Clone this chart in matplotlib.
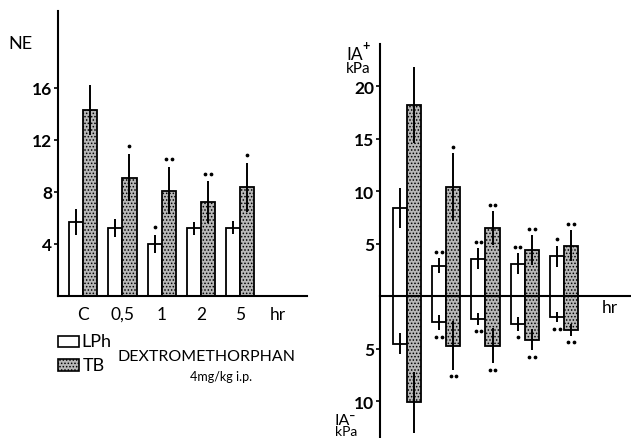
import matplotlib
matplotlib.use('Agg')
import matplotlib.pyplot as plt
from matplotlib.patches import Rectangle
import numpy as np

plt.rcParams['font.family'] = ['Lato', 'DejaVu Sans']
plt.rcParams['hatch.linewidth'] = 0.7
plt.rcParams['hatch.color'] = '#303030'

# data
groups = ['C', '0,5', '1', '2', '5']

ne_lph = [5.7, 5.2, 4.0, 5.2, 5.25]
ne_lph_err = [1.0, 0.7, 0.7, 0.5, 0.5]
ne_tb = [14.3, 9.1, 8.1, 7.2, 8.35]
ne_tb_err = [1.9, 1.8, 1.8, 1.6, 1.9]
ne_lph_sig = [0, 0, 1, 0, 0]
ne_tb_sig = [0, 1, 2, 2, 1]

ia_pos_lph = [8.4, 2.9, 3.55, 3.1, 3.8]
ia_pos_lph_err = [1.9, 0.7, 1.0, 1.0, 1.0]
ia_pos_tb = [18.2, 10.4, 6.5, 4.4, 4.8]
ia_pos_tb_err = [3.6, 3.2, 1.6, 1.4, 1.5]
ia_pos_lph_sig = [0, 2, 2, 2, 1]
ia_pos_tb_sig = [0, 1, 2, 2, 2]

ia_neg_lph = [4.55, 2.5, 2.2, 2.65, 2.0]
ia_neg_lph_err = [1.0, 0.75, 0.55, 0.65, 0.5]
ia_neg_tb = [10.1, 4.7, 4.7, 4.15, 3.2]
ia_neg_tb_err = [2.9, 2.3, 1.7, 1.0, 0.55]
ia_neg_lph_sig = [0, 2, 2, 1, 2]
ia_neg_tb_sig = [0, 2, 2, 2, 2]

W, H = 631, 439
x = np.arange(len(groups))
bw = 0.36
TB_FACE = '#b8b8b8'
TB_HATCH = '.....'


def draw_bars(ax, vals, errs, off, face, hatch, sign=1):
    v = sign * np.array(vals)
    ax.bar(x + off, v, bw, color=face, edgecolor='black', hatch=hatch,
           linewidth=1.3, zorder=2)
    ax.errorbar(x + off, v, yerr=errs, fmt='none', ecolor='black',
                elinewidth=1.4, capsize=0, zorder=3)


def draw_sig(ax, vals, errs, counts, off, gap, sign=1):
    for i, n in enumerate(counts):
        if n == 0:
            continue
        y = sign * (vals[i] + errs[i] + gap)
        dx = [0.0] if n == 1 else [-0.07, 0.07]
        ax.plot(x[i] + off + np.array(dx), [y] * n, 'o', ms=1.7,
                color='black', zorder=4)


fig = plt.figure(figsize=(W / 100, H / 100), dpi=100)

# ---- left panel: NE
ax1 = fig.add_axes([58 / W, 1 - 297 / H, 249 / W, 285 / H])
draw_bars(ax1, ne_lph, ne_lph_err, -bw / 2, 'white', None)
draw_bars(ax1, ne_tb, ne_tb_err, bw / 2, TB_FACE, TB_HATCH)
draw_sig(ax1, ne_lph, ne_lph_err, ne_lph_sig, -bw / 2, 0.6)
draw_sig(ax1, ne_tb, ne_tb_err, ne_tb_sig, bw / 2, 0.6)
ax1.set_xlim(-0.64, 5.7)
ax1.set_ylim(0, 21.9)
ax1.set_yticks([4, 8, 12, 16])
ax1.set_xticks(list(x) + [4.95])
ax1.set_xticklabels(groups + ['hr'])
for s in ['top', 'right']:
    ax1.spines[s].set_visible(False)
for s in ['left', 'bottom']:
    ax1.spines[s].set_linewidth(1.5)
ax1.tick_params(axis='x', length=0, pad=7, labelsize=12.5)
ax1.tick_params(axis='y', length=3, width=1.2, direction='out', pad=1,
                labelsize=12.5)
for t in ax1.get_yticklabels():
    t.set_fontweight('bold')
fig.text(8 / W, 1 - 44 / H, 'NE', fontsize=13, va='center')

# legend
fig.add_artist(Rectangle((58 / W, 1 - 348 / H), 21 / W, 11 / H,
                         transform=fig.transFigure, facecolor='white',
                         edgecolor='black', linewidth=1.2))
fig.add_artist(Rectangle((58 / W, 1 - 372 / H), 21 / W, 12 / H,
                         transform=fig.transFigure, facecolor=TB_FACE,
                         hatch=TB_HATCH, edgecolor='black', linewidth=1.2))
fig.text(81 / W, 1 - 342 / H, 'LPh', fontsize=13, va='center')
fig.text(83 / W, 1 - 366 / H, 'TB', fontsize=13, va='center')
fig.text(118 / W, 1 - 357 / H, 'DEXTROMETHORPHAN', fontsize=11.5, va='center')
fig.text(190 / W, 1 - 377 / H, '4mg/kg i.p.', fontsize=9, va='center')

# ---- right panel: IA+ / IA-
ax2 = fig.add_axes([380 / W, 0, 251 / W, 394 / H])
draw_bars(ax2, ia_pos_lph, ia_pos_lph_err, -bw / 2, 'white', None)
draw_bars(ax2, ia_pos_tb, ia_pos_tb_err, bw / 2, TB_FACE, TB_HATCH)
draw_bars(ax2, ia_neg_lph, ia_neg_lph_err, -bw / 2, 'white', None, sign=-1)
draw_bars(ax2, ia_neg_tb, ia_neg_tb_err, bw / 2, TB_FACE, TB_HATCH, sign=-1)
draw_sig(ax2, ia_pos_lph, ia_pos_lph_err, ia_pos_lph_sig, -bw / 2, 0.6)
draw_sig(ax2, ia_pos_tb, ia_pos_tb_err, ia_pos_tb_sig, bw / 2, 0.6)
draw_sig(ax2, ia_neg_lph, ia_neg_lph_err, ia_neg_lph_sig, -bw / 2, 0.6, sign=-1)
draw_sig(ax2, ia_neg_tb, ia_neg_tb_err, ia_neg_tb_sig, bw / 2, 0.6, sign=-1)
ax2.set_xlim(-0.69, 5.71)
ax2.set_ylim(-13.5, 24.0)
ax2.set_yticks([20, 15, 10, 5, -5, -10])
ax2.set_yticklabels(['20', '15', '10', '5', '5', '10'])
ax2.set_xticks([])
ax2.spines['bottom'].set_position(('data', 0))
for s in ['top', 'right']:
    ax2.spines[s].set_visible(False)
for s in ['left', 'bottom']:
    ax2.spines[s].set_linewidth(1.5)
ax2.tick_params(axis='y', length=3, width=1.2, direction='out', pad=1,
                labelsize=12.5)
for t in ax2.get_yticklabels():
    t.set_fontweight('bold')
ax2.patch.set_alpha(0)
ax2.text(5.18, -1.05, 'hr', fontsize=12.5, ha='center', va='center')

fig.text(346 / W, 1 - 55 / H, 'IA', fontsize=12.5, va='center')
fig.text(362 / W, 1 - 46 / H, '+', fontsize=9, va='center', weight='bold')
fig.text(346 / W, 1 - 69 / H, 'kPa', fontsize=11, va='center')
fig.text(335 / W, 1 - 421 / H, 'IA', fontsize=11.5, va='center')
fig.text(349 / W, 1 - 416 / H, '\u2013', fontsize=8, va='center', weight='bold')
fig.text(335 / W, 1 - 438.5 / H, 'kPa', fontsize=10, va='bottom')

fig.savefig('out.png', dpi=100, facecolor='white')
